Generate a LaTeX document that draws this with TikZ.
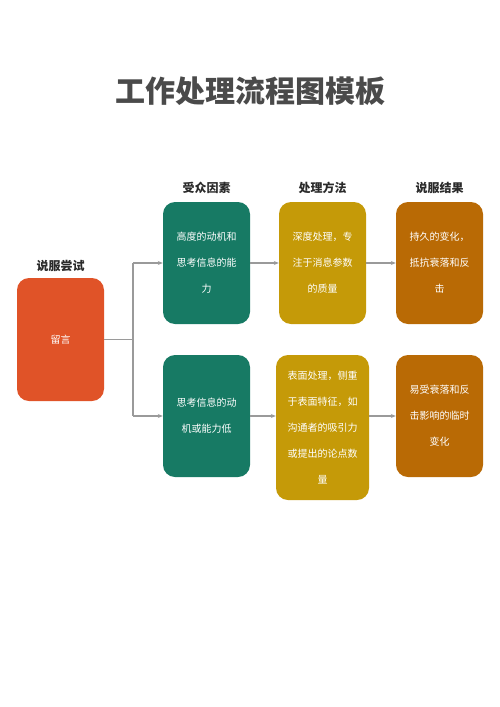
\documentclass[tikz,border=0pt]{standalone}
\usepackage{fontspec}
\setmainfont{Noto Sans CJK SC}
\usetikzlibrary{arrows.meta}
\definecolor{cOrange}{HTML}{E05328}
\definecolor{cGreen}{HTML}{177A64}
\definecolor{cGold}{HTML}{C59A08}
\definecolor{cBrown}{HTML}{B96A05}
\definecolor{cTitle}{HTML}{4A4A4A}
\definecolor{cLine}{HTML}{9A9A9A}
\definecolor{cHead}{HTML}{2A2A2A}
\tikzset{
  box/.style={rounded corners=12pt, inner sep=0pt, text=white, align=center,
    font=\fontsize{10}{26}\selectfont},
  head/.style={font=\bfseries\fontsize{12}{14}\selectfont, text=cHead, inner sep=0pt},
  conn/.style={draw=cLine, line width=1.3pt},
  arr/.style={conn, -{Stealth[length=5pt,width=4pt]}}
}
\begin{document}
\begin{tikzpicture}[x=1pt,y=-1pt]
\useasboundingbox (0,0) rectangle (500,707);
\node[font=\bfseries\fontsize{30}{32}\selectfont, text=cTitle] (title) at (250,91) {工作处理流程图模板};

\node[box, fill=cOrange, minimum width=87pt, minimum height=123pt] (o) at (60.5,339.5) {留言};
\node[head] (ho) at (60.5,266) {说服尝试};

\node[box, fill=cGreen, minimum width=87pt, minimum height=122pt] (g1) at (206.5,263) {高度的动机和\\思考信息的能\\力};
\node[box, fill=cGold, minimum width=87pt, minimum height=122pt] (y1) at (322.5,263) {深度处理，专\\注于消息参数\\的质量};
\node[box, fill=cBrown, minimum width=87pt, minimum height=122pt] (b1) at (439.5,263) {持久的变化，\\抵抗衰落和反\\击};

\node[head] (hg) at (206.5,188) {受众因素};
\node[head] (hy) at (322.5,188) {处理方法};
\node[head] (hb) at (439.5,188) {说服结果};

\node[box, fill=cGreen, minimum width=87pt, minimum height=122pt] (g2) at (206.5,416) {思考信息的动\\机或能力低};
\node[box, fill=cGold, minimum width=93pt, minimum height=145pt] (y2) at (322.5,427.5) {表面处理，侧重\\于表面特征，如\\沟通者的吸引力\\或提出的论点数\\量};
\node[box, fill=cBrown, minimum width=87pt, minimum height=122pt] (b2) at (439.5,416) {易受衰落和反\\击影响的临时\\变化};

\coordinate (j) at (133,339.5);
\coordinate (jt) at (133,263);
\coordinate (jb) at (133,416);
\draw[conn] (o.east) -- (j);
\draw[conn] (jt) -- (jb);
\draw[arr] (jt) -- (g1.west);
\draw[arr] (jb) -- (g2.west);
\draw[arr] (g1.east) -- (y1.west);
\draw[arr] (y1.east) -- (b1.west);
\draw[arr] (g2.east) -- (y2.west |- g2.east);
\draw[arr] (y2.east |- b2.west) -- (b2.west);
\end{tikzpicture}
\end{document}
